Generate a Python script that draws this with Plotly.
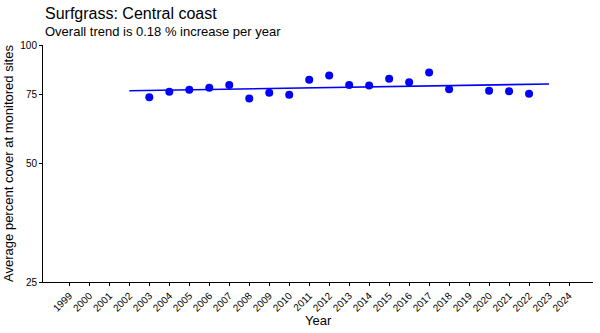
import plotly.graph_objects as go
import numpy as np

years = [2003, 2004, 2005, 2006, 2007, 2008, 2009, 2010, 2011, 2012, 2013, 2014, 2015, 2016, 2017, 2018, 2020, 2021, 2022]
cover = [73.7, 76.1, 77.0, 77.9, 79.1, 73.1, 75.6, 74.7, 81.6, 83.6, 79.1, 78.9, 82.1, 80.4, 85.1, 77.2, 76.5, 76.3, 75.2]
trend_years = [2002, 2023]
trend_cover = [76.5, 79.6]
tick_years = list(range(1999, 2025))
y_ticks = [25, 50, 75, 100]

fig = go.Figure()
fig.add_trace(go.Scatter(x=trend_years, y=trend_cover, mode="lines",
                         line=dict(color="#0000FF", width=1.6), showlegend=False))
fig.add_trace(go.Scatter(x=years, y=cover, mode="markers",
                         marker=dict(color="#0000FF", size=8), showlegend=False))

font = "Liberation Sans, Arial, sans-serif"
fig.update_layout(
    width=600, height=333,
    margin=dict(l=43, r=7, t=45, b=51),
    plot_bgcolor="white", paper_bgcolor="white",
    font=dict(family=font, color="black"),
)
fig.add_annotation(text="Surfgrass: Central coast", xref="paper", yref="paper",
                   x=0, y=1 + (45 - 13) / 237, xanchor="left", yanchor="middle",
                   showarrow=False, font=dict(size=16, family=font))
fig.add_annotation(text="Overall trend is 0.18 % increase per year", xref="paper", yref="paper",
                   x=0, y=1 + (45 - 31) / 237, xanchor="left", yanchor="middle",
                   showarrow=False, font=dict(size=13, family=font))
fig.add_annotation(text="Year", xref="paper", yref="paper",
                   x=(318 - 43) / 550, y=-(320 - 282) / 237, xanchor="center", yanchor="middle",
                   showarrow=False, font=dict(size=13, family=font))

fig.update_xaxes(range=[1997.68, 2025.2], tickmode="array", tickvals=tick_years,
                 ticktext=[str(y) for y in tick_years], tickangle=-45,
                 tickfont=dict(size=10, family=font, color="black"),
                 showline=True, linecolor="black", linewidth=1, ticks="outside",
                 ticklen=3, tickcolor="black", showgrid=False, zeroline=False)
fig.update_yaxes(type="log", range=[np.log10(25), np.log10(100)], tickmode="array",
                 tickvals=y_ticks, ticktext=[str(v) for v in y_ticks],
                 tickfont=dict(size=10, family=font, color="black"),
                 title=dict(text="Average percent cover at monitored sites",
                            font=dict(size=13, family=font), standoff=3),
                 showline=True, linecolor="black", linewidth=1, ticks="outside",
                 ticklen=3, tickcolor="black", showgrid=False, zeroline=False)

fig.write_html("out.html")
